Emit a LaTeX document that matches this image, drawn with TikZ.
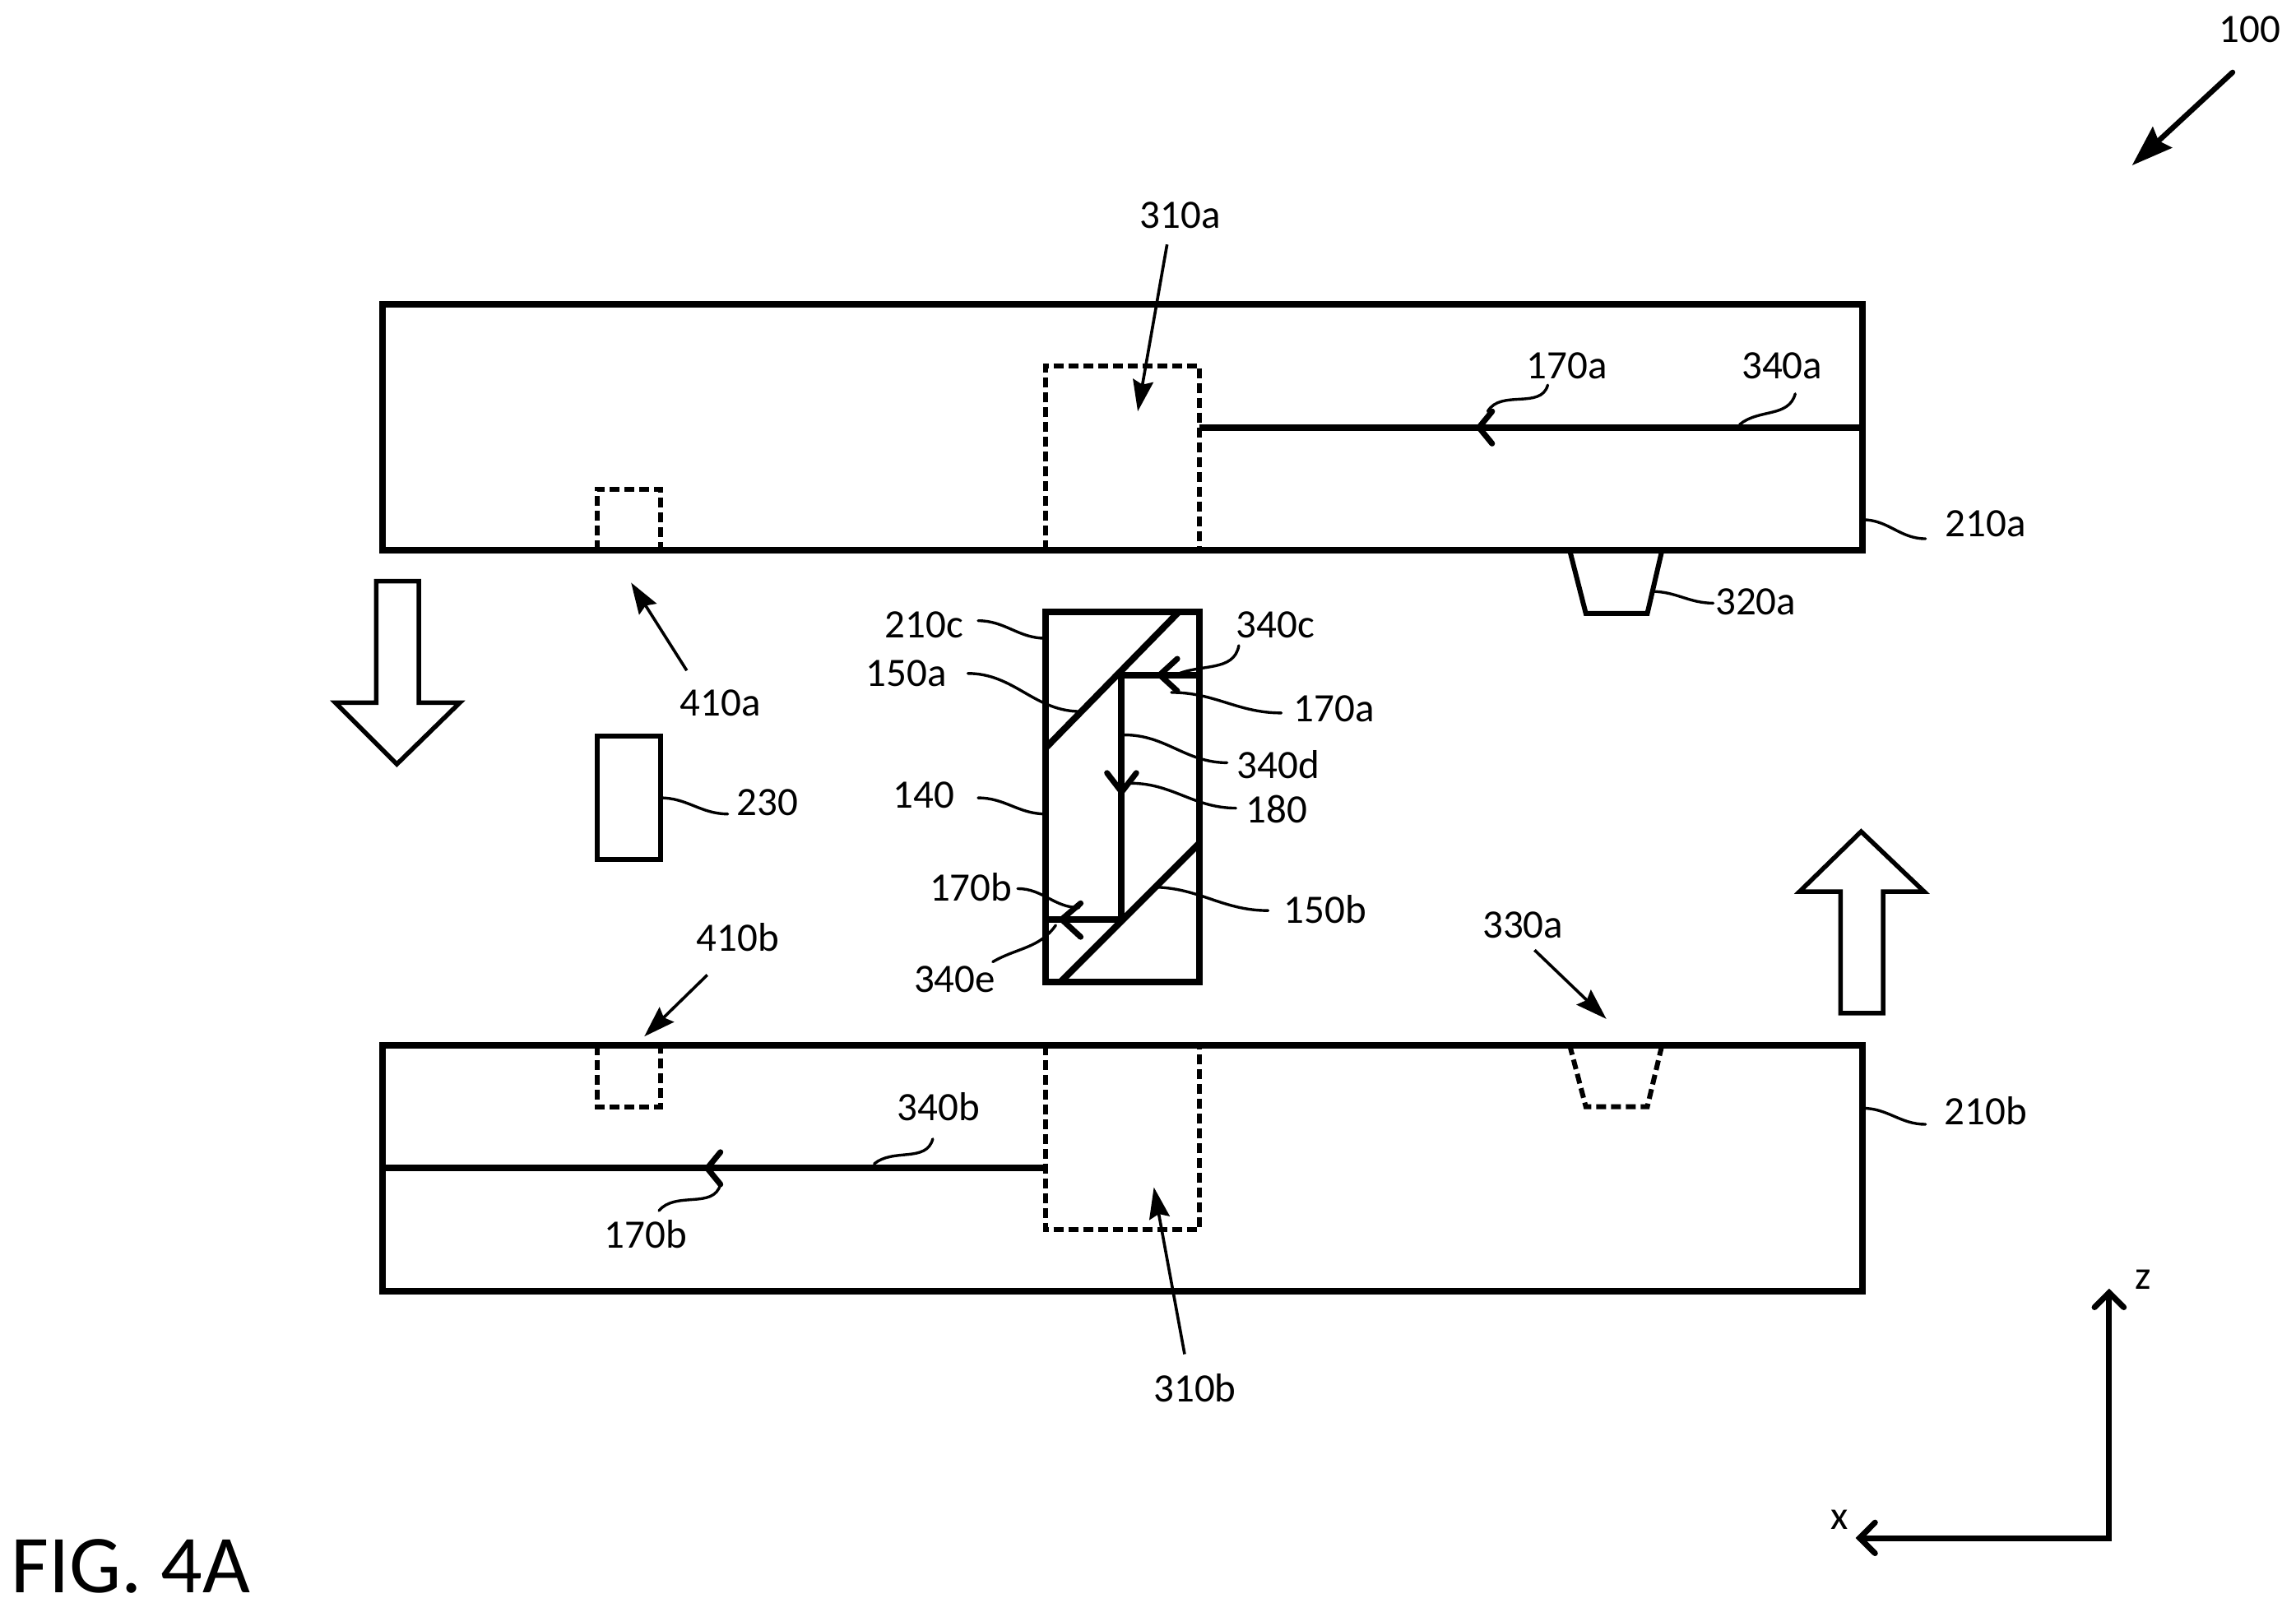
\documentclass[tikz,border=0pt]{standalone}
\usepackage{fontspec}
\setmainfont{Carlito}
\usetikzlibrary{arrows.meta}
\tikzset{
  x=1.78pt,y=-1.78pt,
  solidline/.style={draw=black,line width=8pt,line join=miter},
  framebox/.style={solidline,rectangle,outer sep=0pt,inner sep=0pt,anchor=north west},
  chev/.style={draw=black,line width=7pt,line cap=round,line join=miter},
  dashline/.style={draw=black,line width=6pt,dash pattern=on 12pt off 6pt},
  lead/.style={draw=black,line width=3.4pt,line cap=round},
  ptr/.style={draw=black,line width=3.6pt,-{Stealth[length=38pt,width=25pt,inset=5pt]}},
  lab/.style={font=\fontsize{49}{58}\selectfont,inner sep=0pt,text=black},
  axis/.style={draw=black,line width=7pt,line cap=round},
  bigarrow/.style={draw=black,line width=5.5pt,line join=miter,fill=white},
}
\begin{document}
\begin{tikzpicture}
\useasboundingbox (0,0) rectangle (1568,1100.6);
% housings
\node[framebox,minimum width=1011*1.78pt,minimum height=168*1.78pt] (boxa) at (261,208) {};
\node[framebox,minimum width=1011*1.78pt,minimum height=168*1.78pt] (boxb) at (261,714) {};
\node[framebox,minimum width=105*1.78pt,minimum height=253*1.78pt] (boxc) at (714,418) {};
\node[framebox,line width=6pt,minimum width=43*1.78pt,minimum height=84*1.78pt] (rect230) at (408,503) {};
% dashed recesses
\draw[dashline] (714,376) -- (714,250) -- (819,250) -- (819,376);
\draw[dashline] (408,376) -- (408,334) -- (451,334) -- (451,376);
\draw[dashline] (714,714) -- (714,840) -- (819,840) -- (819,714);
\draw[dashline] (408,714) -- (408,756) -- (451,756) -- (451,714);
\draw[dashline] (1072,714) -- (1083,756) -- (1125,756) -- (1135,714);
% protrusion
\draw[draw=black,line width=6pt] (1072,376) -- (1083,419) -- (1125,419) -- (1135,376);
% beams
\draw[solidline] (819,292) -- (1272,292);
\draw[solidline] (261,798) -- (714,798);
\draw[solidline] (805,418) -- (714,511);
\draw[solidline] (819,576) -- (724,671);
\draw[solidline] (819,461) -- (766,461) -- (766,628) -- (714,628);
% chevrons
\draw[chev] (1019,281) -- (1010,292) -- (1019,303);
\draw[chev] (492,787) -- (483,798) -- (492,809);
\draw[chev] (804,450) -- (792,461) -- (804,472);
\draw[chev] (756,528) -- (766,541) -- (776,528);
\draw[chev] (738,617) -- (725,628) -- (738,640);
% big arrows
\draw[bigarrow] (257,397) -- (286,397) -- (286,480) -- (314,480) -- (271,522) -- (229,480) -- (257,480) -- cycle;
\draw[bigarrow] (1257,692) -- (1286,692) -- (1286,609) -- (1314,609) -- (1271,568) -- (1229,609) -- (1257,609) -- cycle;
% axes
\coordinate (origin) at (1440.4,1050.6);
\coordinate (ztip) at (1440.4,883);
\coordinate (xtip) at (1270,1050.6);
\draw[axis] (xtip) -- (origin) -- (ztip);
\draw[axis,line join=miter] (1430.4,893) -- (ztip) -- (1450.4,893);
\draw[axis,line join=miter] (1280.5,1040) -- (xtip) -- (1280.5,1061);
% labels
\node[lab] (l100) at (1536.6,20) {100};
\node[lab] (l310a) at (806,147) {310a};
\node[lab] (l170a) at (1070,250) {170a};
\node[lab] (l340a) at (1217,250) {340a};
\node[lab] (l210a) at (1356,358) {210a};
\node[lab] (l320a) at (1199,411) {320a};
\node[lab] (l210c) at (631,427) {210c};
\node[lab] (l340c) at (871,427) {340c};
\node[lab] (l150a) at (619,460) {150a};
\node[lab] (l170c) at (911,484) {170a};
\node[lab] (l340d) at (873,522) {340d};
\node[lab] (l180) at (872,553) {180};
\node[lab] (l140) at (631,543) {140};
\node[lab] (l230) at (524,548) {230};
\node[lab] (l410a) at (492,480) {410a};
\node[lab] (l170d) at (663,606) {170b};
\node[lab] (l150b) at (905,621) {150b};
\node[lab] (l340e) at (652,669) {340e};
\node[lab] (l410b) at (504,640) {410b};
\node[lab] (l330a) at (1040,632) {330a};
\node[lab] (l340b) at (641,756) {340b};
\node[lab] (l170b) at (441,843) {170b};
\node[lab] (l210b) at (1356,759) {210b};
\node[lab] (l310b) at (816,948) {310b};
\node[lab] (lz) at (1463.6,874) {z};
\node[lab] (lx) at (1256,1038) {x};
\node[lab,font=\fontsize{100}{116}\selectfont,anchor=base west] (fig) at (7.5,1088.2) {FIG. 4A};
% pointer arrows
\coordinate (p100s) at (1524.7,49.4);\coordinate (p100e) at (1456,113);
\coordinate (p310as) at (797,167);\coordinate (p310ae) at (777,281);
\coordinate (p410as) at (469,458);\coordinate (p410ae) at (431,398);
\coordinate (p410bs) at (483,666);\coordinate (p410be) at (440,708);
\coordinate (p330s) at (1048,649);\coordinate (p330e) at (1097,696);
\coordinate (p310bs) at (809,925);\coordinate (p310be) at (788,811);
\draw[ptr,line width=6.5pt,line cap=round,-{Stealth[length=50pt,width=34pt,inset=6pt]}] (p100s) -- (p100e);
\draw[ptr] (p310as) -- (p310ae);
\draw[ptr] (p410as) -- (p410ae);
\draw[ptr] (p410bs) -- (p410be);
\draw[ptr] (p330s) -- (p330e);
\draw[ptr] (p310bs) -- (p310be);
% squiggle leaders
\coordinate (s210a) at (1272,355);\coordinate (t210a) at (1315,368);
\draw[lead] (s210a) to[out=0,in=180] (t210a);
\coordinate (s210b) at (1272,757);\coordinate (t210b) at (1315,768);
\draw[lead] (s210b) to[out=0,in=180] (t210b);
\coordinate (s320a) at (1128,404);\coordinate (t320a) at (1170,412);
\draw[lead] (s320a) to[out=0,in=180] (t320a);
\coordinate (s340a) at (1188,290);\coordinate (t340a) at (1226,269);
\draw[lead] (s340a) to[out=40,in=-105] (t340a);
\coordinate (s170a) at (1016,281);\coordinate (t170a) at (1057,263);
\draw[lead] (s170a) to[out=60,in=-105] (t170a);
\coordinate (s340b) at (597,795);\coordinate (t340b) at (637,778);
\draw[lead] (s340b) to[out=40,in=-105] (t340b);
\coordinate (s170b) at (492,809);\coordinate (t170b) at (450,827);
\draw[lead] (s170b) to[out=-105,in=50] (t170b);
\coordinate (s210c) at (668,424);\coordinate (t210c) at (714,436);
\draw[lead] (s210c) to[out=0,in=180] (t210c);
\coordinate (s150a) at (661,460);\coordinate (t150a) at (738,486);
\draw[lead] (s150a) to[out=0,in=180] (t150a);
\coordinate (s340c) at (846,441);\coordinate (t340c) at (803,461);
\draw[lead] (s340c) to[out=-100,in=25] (t340c);
\coordinate (s170c) at (800,473);\coordinate (t170c) at (875,487);
\draw[lead] (s170c) to[out=0,in=180] (t170c);
\coordinate (s340d) at (768,502);\coordinate (t340d) at (838,521);
\draw[lead] (s340d) to[out=0,in=180] (t340d);
\coordinate (s180) at (772,535);\coordinate (t180) at (844,552);
\draw[lead] (s180) to[out=0,in=180] (t180);
\coordinate (s140) at (668,545);\coordinate (t140) at (714,556);
\draw[lead] (s140) to[out=0,in=180] (t140);
\coordinate (s230) at (451,545);\coordinate (t230) at (497,556);
\draw[lead] (s230) to[out=0,in=180] (t230);
\coordinate (s170d) at (695,607);\coordinate (t170d) at (737,620);
\draw[lead] (s170d) to[out=0,in=180] (t170d);
\coordinate (s150b) at (787,606);\coordinate (t150b) at (866,622);
\draw[lead] (s150b) to[out=0,in=180] (t150b);
\coordinate (s340e) at (678,657);\coordinate (t340e) at (721,632);
\draw[lead] (s340e) to[out=30,in=-125] (t340e);
\end{tikzpicture}
\end{document}
